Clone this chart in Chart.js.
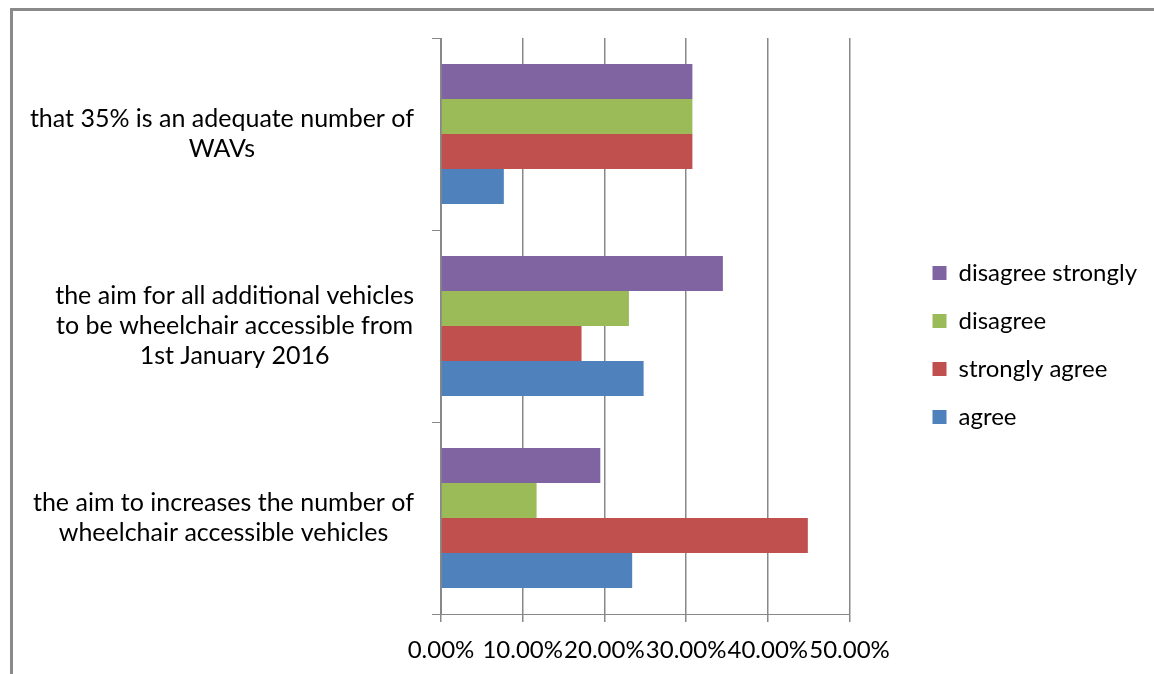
<!DOCTYPE html>
<html>
<head>
<meta charset="utf-8">
<script src="https://cdn.jsdelivr.net/npm/chart.js@4.4.1/dist/chart.umd.min.js"></script>
<style>
  html, body { margin: 0; padding: 0; background: #fff; overflow: hidden; }
  #frame { position: absolute; left: 10px; top: 8px; width: 1200px; height: 700px;
           border-left: 3px solid #8a8a8a; border-top: 3px solid #8a8a8a; }
  #wrap { position: absolute; left: 0; top: 0; width: 1154px; height: 674px; }
</style>
</head>
<body>
<div id="frame"></div>
<div id="wrap"><canvas id="surveyChart" width="1154" height="674"></canvas></div>
<script>
// survey statements, one array of lines each (top to bottom)
const categories = [
  ['that 35% is an adequate number of', 'WAVs'],
  ['the aim for all additional vehicles', 'to be wheelchair accessible from', '1st January 2016'],
  ['the aim to increases the number of', 'wheelchair accessible vehicles']
];

// share of responses, in percent
const disagreeStrongly = [30.77, 34.5, 19.5];
const disagree = [30.77, 23.0, 11.7];
const stronglyAgree = [30.77, 17.2, 44.9];
const agree = [7.69, 24.8, 23.4];

const xTicks = [0, 10, 20, 30, 40, 50];

const FONT = 'Lato';

// statement text left of the axis: each block centred on itself, right edge near the axis
const categoryLabels = {
  id: 'categoryLabels',
  afterDraw(chart) {
    const ctx = chart.ctx;
    const yScale = chart.scales.y;
    const right = chart.chartArea.left - 27;
    ctx.save();
    ctx.font = '25px ' + FONT;
    ctx.fillStyle = '#000';
    ctx.textAlign = 'center';
    ctx.textBaseline = 'middle';
    categories.forEach((lines, i) => {
      const w = Math.max(...lines.map(l => ctx.measureText(l).width));
      const cx = right - w / 2;
      const cy = yScale.getPixelForValue(i);
      lines.forEach((l, j) => {
        ctx.fillText(l, cx, cy + (j - (lines.length - 1) / 2) * 30);
      });
    });
    ctx.restore();
  }
};

new Chart(document.getElementById('surveyChart'), {
  type: 'bar',
  data: {
    labels: categories,
    datasets: [
      { label: 'disagree strongly', data: disagreeStrongly, backgroundColor: '#8064A2' },
      { label: 'disagree', data: disagree, backgroundColor: '#9BBB59' },
      { label: 'strongly agree', data: stronglyAgree, backgroundColor: '#C0504D' },
      { label: 'agree', data: agree, backgroundColor: '#4F81BD' }
    ]
  },
  options: {
    indexAxis: 'y',
    responsive: false,
    animation: false,
    datasets: { bar: { categoryPercentage: 0.73, barPercentage: 1 } },
    layout: { padding: { top: 38, bottom: 0, left: 0, right: 7 } },
    plugins: {
      legend: {
        position: 'right',
        fullSize: false,
        // blank title only pushes the key a little below the plot's middle
        title: { display: true, text: '', font: { size: 10 }, padding: { top: 13, bottom: 13 } },
        labels: {
          boxWidth: 14,
          boxHeight: 14,
          padding: 24,
          color: '#000',
          font: { family: FONT, size: 24 }
        }
      },
      tooltip: { enabled: false }
    },
    scales: {
      x: {
        min: 0,
        max: 50,
        afterBuildTicks: s => { s.ticks = xTicks.map(v => ({ value: v })); },
        afterFit: s => { s.height = 60; },
        grid: { color: '#888', lineWidth: 1.5, tickLength: 8 },
        border: { color: '#888' },
        ticks: {
          padding: 14,
          color: '#000',
          autoSkip: false,
          maxRotation: 0,
          font: { family: FONT, size: 24 },
          callback: v => v.toFixed(2) + '%'
        }
      },
      y: {
        grid: { drawOnChartArea: false, color: '#888', tickLength: 9 },
        border: { color: '#888' },
        ticks: { display: false },
        afterFit: s => { s.width = 441; }
      },
      // empty strip between the plot and the legend
      gap: {
        axis: 'y',
        type: 'linear',
        position: 'right',
        display: false,
        afterFit: s => { s.width = 59; }
      }
    }
  },
  plugins: [categoryLabels]
});
</script>
</body>
</html>
